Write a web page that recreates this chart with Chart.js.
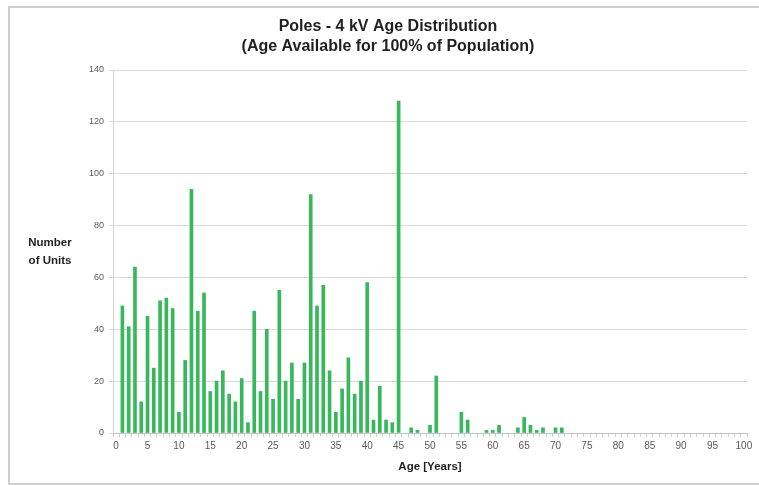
<!DOCTYPE html>
<html>
<head>
<meta charset="utf-8">
<script src="https://cdn.jsdelivr.net/npm/chart.js@4"></script>
<style>
  body { margin: 0; background: #fff; }
  #wrap { position: relative; width: 759px; height: 485px; overflow: hidden; }
  #frame { position: absolute; left: 8px; top: 6px; width: 800px; height: 475px; border: 2px solid #cfcfcf; pointer-events: none; }
  canvas { position: absolute; left: 0; top: 0; }
</style>
</head>
<body>
<div id="wrap">
  <div id="frame"></div>
  <canvas id="chart" width="759" height="485"></canvas>
</div>
<script>
// edad de los postes (años) y número de unidades (null = sin barra)
const ages = [];
for (let a = 0; a <= 100; a++) ages.push(String(a));

const units = [
  null, 49, 41, 64, 12, 45, 25, 51, 52, 48, 8,
  28, 94, 47, 54, 16, 20, 24, 15, 12, 21,
  4, 47, 16, 40, 13, 55, 20, 27, 13, 27,
  92, 49, 57, 24, 8, 17, 29, 15, 20, 58,
  5, 18, 5, 4, 128, null, 2, 1, null, 3,
  22, null, null, null, 8, 5, null, null, 1, 1,
  3, null, null, 2, 6, 3, 1, 2, null, 2,
  2, null, null, null, null, null, null, null, null, null,
  null, null, null, null, null, null, null, null, null, null,
  null, null, null, null, null, null, null, null, null, null
];

const titleLines = ["Poles - 4 kV Age Distribution", "(Age Available for 100% of Population)"];
const yTitleLines = ["Number", "of Units"];
const xTitle = "Age [Years]";

// titulos dibujados a mano (el eje Y va horizontal)
const textPlugin = {
  id: "textPlugin",
  afterDraw(chart) {
    const ctx = chart.ctx;
    ctx.save();
    ctx.fillStyle = "#1f1f1f";
    ctx.textAlign = "center";
    ctx.textBaseline = "middle";
    ctx.font = "bold 16px 'Liberation Sans', Arial, sans-serif";
    ctx.fillText(titleLines[0], 388, 27);
    ctx.fillText(titleLines[1], 388, 47);
    ctx.font = "bold 11.5px 'Liberation Sans', Arial, sans-serif";
    ctx.fillText(yTitleLines[0], 50, 243);
    ctx.fillText(yTitleLines[1], 50, 261);
    ctx.restore();
  },
};

new Chart(document.getElementById("chart"), {
  type: "bar",
  data: {
    labels: ages,
    datasets: [
      {
        data: units,
        backgroundColor: "#38b75c",
        borderWidth: 0,
        barThickness: 3,
      },
    ],
  },
  options: {
    responsive: false,
    animation: false,
    layout: {
      padding: { top: 70, left: 83, right: 12, bottom: 7 },
    },
    plugins: {
      legend: { display: false },
      tooltip: { enabled: false },
    },
    scales: {
      x: {
        afterFit: (s) => { s.height = 45; },
        grid: {
          drawOnChartArea: false,
          drawTicks: true,
          tickLength: 4,
          color: "#cfcfcf",
        },
        border: { color: "#c4c4c4", width: 1 },
        ticks: {
          autoSkip: false,
          maxRotation: 0,
          padding: 3,
          color: "#595959",
          font: { family: "'Liberation Sans', Arial, sans-serif", size: 10 },
          callback: (v, i) => (i % 5 === 0 ? ages[i] : ""),
        },
        title: {
          display: true,
          text: xTitle,
          color: "#1f1f1f",
          padding: { top: 0, bottom: 4 },
          font: { family: "'Liberation Sans', Arial, sans-serif", size: 11.5, weight: "bold" },
        },
      },
      y: {
        min: 0,
        max: 140,
        afterFit: (s) => { s.width = 30; },
        grid: {
          color: "#dadada",
          tickLength: 4,
        },
        border: { color: "#d4d4d4", width: 1 },
        ticks: {
          stepSize: 20,
          padding: 5,
          color: "#595959",
          font: { family: "'Liberation Sans', Arial, sans-serif", size: 9 },
        },
      },
    },
  },
  plugins: [textPlugin],
});
</script>
</body>
</html>
